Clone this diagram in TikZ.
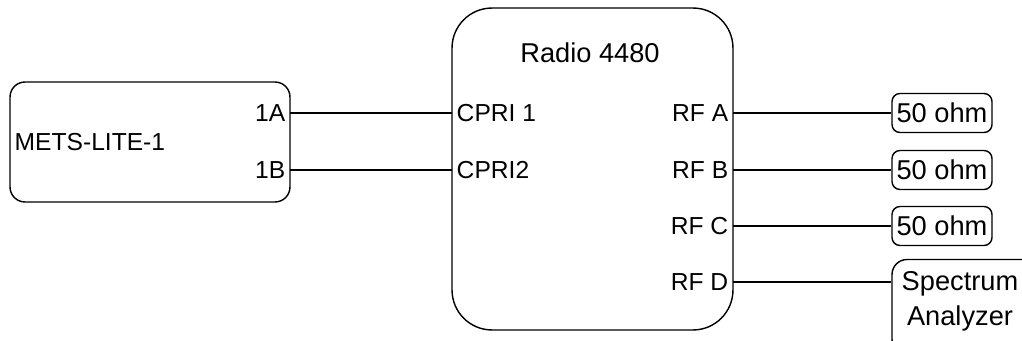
\documentclass[tikz,border=0pt]{standalone}
\usepackage{fontspec}
\setmainfont{Liberation Sans}
\begin{document}
\begin{tikzpicture}[x=0.02cm, y=-0.02cm, font=\fontsize{14}{17}\selectfont,
    box/.style={draw, line width=0.8pt, rounded corners=#1},
    port/.style={inner sep=2.5pt},
    big/.style={font=\fontsize{15.5}{19.8}\selectfont},
    wire/.style={line width=0.8pt}]

\useasboundingbox (0,0) rectangle (1022,341);

% METS-LITE-1 links
\node[box=0.3cm, minimum width=5.6cm, minimum height=2.4cm] (mets) at (150,142) {};
\node[port, anchor=west] (metsname) at (10,142) {METS-LITE-1};
\node[port, anchor=east] (p1A) at (290,113) {1A};
\node[port, anchor=east] (p1B) at (290,170) {1B};

% Radio 4480 tengah
\node[box=0.8cm, minimum width=5.62cm, minimum height=6.44cm] (radio) at (592.5,169) {};
\node[big] (radioname) at (590,53) {Radio 4480};
\node[port, anchor=west] (cpri1) at (452,113) {CPRI 1};
\node[port, anchor=west] (cpri2) at (452,170) {CPRI2};
\foreach \n/\y in {A/113, B/170, C/226, D/282} {
    \node[port, anchor=east] (rf\n) at (733,\y) {RF \n};
}

% beban 50 ohm kanan
\foreach \n/\y in {A/113, B/170, C/226} {
    \node[box=0.16cm, big, minimum width=2cm, minimum height=0.78cm, inner sep=0pt] (ohm\n) at (942,\y) {50 ohm};
}

% spectrum analyzer (terpotong di tepi)
\node[box=0.3cm, minimum width=3.16cm, minimum height=1.9cm] (spec) at (971,307) {};
\node[big, align=center, inner sep=0pt] (specname) at (960,301) {Spectrum\\Analyzer};

% kabel
\draw[wire] (p1A.east) -- (cpri1.west);
\draw[wire] (p1B.east) -- (cpri2.west);
\foreach \n in {A,B,C} {
    \draw[wire] (rf\n.east) -- (ohm\n.west);
}
\draw[wire] (rfD.east) -- (rfD.east -| spec.west);

\end{tikzpicture}
\end{document}
